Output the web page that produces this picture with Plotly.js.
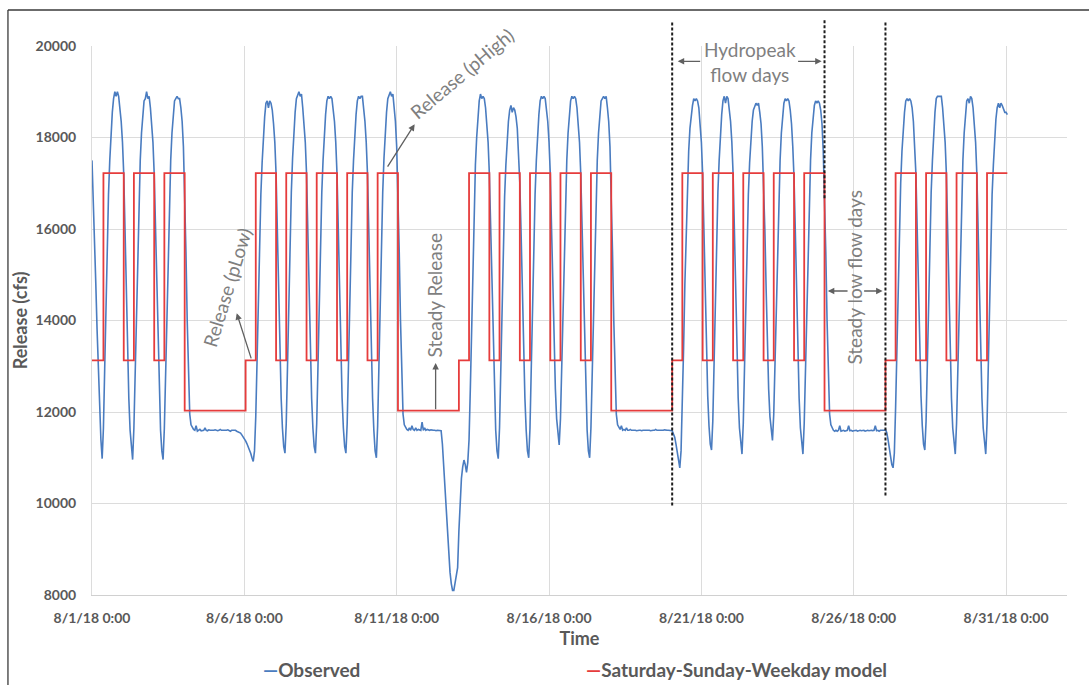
<!DOCTYPE html>
<html>
<head>
<meta charset="utf-8">
<script src="https://cdn.plot.ly/plotly-3.0.1.min.js"></script>
<style>
  html, body { margin: 0; padding: 0; background: #ffffff; }
  #chart { width: 1089px; height: 685px; }
</style>
</head>
<body>
<div id="chart"></div>
<script>
// Hourly observed release (cfs), one row per day starting 8/1/2018, hours 0:00..23:00
const observedHourly = [
  [17500,16700,15800,14800,13800,12900,12100,11400,10980,11650,12950,14350,15650,16750,17500,18100,18550,18850,19000,18900,19000,18900,18650,18350], // 8/1
  [17900,17200,16000,14600,13300,12300,11600,11150,10960,11650,12950,14350,15650,16750,17500,18100,18500,18800,18850,19000,18850,18900,18650,18350], // 8/2
  [17900,17200,16000,14600,13300,12300,11600,11150,10960,11650,12950,14350,15650,16750,17500,18100,18500,18800,18850,18900,18850,18850,18650,18350], // 8/3
  [17800,16900,15500,14000,12700,11950,11720,11650,11620,11600,11700,11580,11600,11620,11590,11600,11600,11650,11600,11590,11610,11600,11600,11590], // 8/4
  [11600,11610,11600,11590,11600,11620,11600,11600,11590,11600,11600,11610,11600,11580,11600,11600,11590,11600,11580,11570,11560,11540,11500,11460], // 8/5
  [11420,11370,11310,11250,11180,11100,11000,10920,11150,11900,13100,14450,15700,16750,17450,18000,18450,18750,18800,18650,18800,18750,18600,18300], // 8/6
  [17900,17200,16000,14600,13300,12300,11650,11250,11100,11750,13000,14400,15700,16800,17550,18150,18550,18850,18950,19000,18900,18950,18650,18350], // 8/7
  [17900,17200,16000,14600,13300,12300,11650,11250,11100,11750,13000,14400,15700,16800,17500,18100,18500,18800,18900,18850,18900,18850,18650,18350], // 8/8
  [17900,17200,16000,14600,13300,12300,11650,11250,11100,11750,13000,14400,15700,16800,17500,18100,18500,18800,18900,18850,18900,18900,18650,18350], // 8/9
  [17900,17200,16000,14600,13300,12300,11600,11150,11000,11700,13000,14400,15700,16800,17550,18150,18550,18850,18950,19000,18900,18950,18650,18350], // 8/10
  [17800,16900,15500,14000,12700,11950,11720,11650,11620,11600,11650,11600,11700,11620,11600,11650,11600,11620,11600,11600,11780,11600,11650,11600], // 8/11
  [11620,11600,11600,11610,11600,11600,11600,11590,11600,11600,11600,11590,11300,10800,10300,9850,9300,8850,8500,8250,8100,8100,8250,8450],           // 8/12
  [8600,9400,10100,10550,10800,10950,10850,10680,10900,11400,12500,13900,15300,16500,17400,18000,18500,18800,18950,18850,18900,18850,18650,18350],       // 8/13
  [17900,17200,16000,14600,13300,12300,11600,11150,10980,11650,12950,14350,15650,16700,17400,17950,18350,18600,18700,18550,18650,18600,18450,18200], // 8/14
  [17700,17000,15900,14500,13300,12300,11600,11150,11000,11650,12950,14350,15650,16750,17500,18100,18500,18800,18900,18850,18900,18850,18650,18350], // 8/15
  [17900,17200,16000,14700,13400,12500,11850,11450,11280,11850,13050,14400,15700,16800,17500,18100,18500,18800,18900,18850,18900,18850,18650,18350], // 8/16
  [17900,17200,16000,14600,13300,12300,11600,11150,11000,11650,12950,14350,15650,16750,17500,18100,18500,18800,18850,18900,18850,18900,18650,18350], // 8/17
  [17800,16900,15500,14000,12700,11950,11720,11650,11620,11700,11600,11620,11600,11650,11600,11600,11620,11600,11600,11610,11600,11590,11600,11600], // 8/18
  [11600,11590,11600,11600,11610,11600,11600,11600,11590,11600,11600,11600,11620,11600,11600,11590,11600,11600,11600,11610,11600,11600,11600,11600], // 8/19
  [11600,11590,11520,11450,11300,11100,10880,10780,11150,12100,13400,14800,16000,17000,17700,18200,18500,18700,18850,18800,18850,18800,18650,18350], // 8/20
  [17900,17200,16000,14600,13300,12350,11700,11300,11170,11800,13050,14400,15700,16800,17500,18100,18500,18800,18900,18750,18900,18850,18650,18350], // 8/21
  [17900,17200,16000,14600,13300,12300,11650,11250,11080,11750,13000,14400,15700,16750,17450,18000,18350,18600,18700,18750,18700,18750,18550,18300], // 8/22
  [17800,17100,16000,14700,13450,12500,11900,11550,11380,11950,13100,14450,15700,16800,17500,18100,18500,18750,18850,18800,18850,18800,18600,18300], // 8/23
  [17800,17100,15950,14600,13300,12300,11650,11250,11080,11750,13000,14400,15700,16800,17500,18100,18500,18700,18800,18750,18800,18750,18600,18300], // 8/24
  [17700,16850,15500,14000,12700,11950,11720,11640,11600,11580,11600,11580,11600,11700,11580,11590,11600,11580,11600,11600,11700,11590,11600,11580], // 8/25
  [11590,11600,11600,11580,11600,11600,11590,11600,11600,11580,11600,11600,11590,11600,11600,11590,11600,11700,11590,11600,11580,11600,11600,11590], // 8/26
  [11600,11620,11550,11400,11200,11000,10850,10780,11100,12100,13400,14800,16000,17000,17700,18200,18550,18800,18850,18800,18850,18800,18650,18350], // 8/27
  [17900,17200,16000,14600,13300,12350,11700,11300,11170,11800,13050,14400,15700,16800,17500,18100,18550,18850,18900,18900,18900,18900,18650,18350], // 8/28
  [17900,17200,16000,14600,13300,12300,11650,11250,11080,11750,13000,14400,15700,16800,17500,18100,18500,18800,18850,18750,18900,18850,18650,18350], // 8/29
  [17900,17200,16000,14600,13300,12300,11650,11250,11080,11750,13000,14400,15700,16750,17400,18000,18400,18650,18750,18650,18750,18700,18600,18550]  // 8/30
];
// Last two readings, 8/31 0:00 and 1:00
const observedTail = [18550, 18500];

// Saturday-Sunday-Weekday model: day type per day from 8/1 (W = weekday, S = weekend)
const dayType = ['W','W','W','S','S','W','W','W','W','W','S','S','W','W','W','W','W','S','S','W','W','W','W','W','S','S','W','W','W','W'];
const releasePLow = 13130;    // weekday off-peak release
const releasePHigh = 17220;   // weekday peak release
const releaseSteady = 12030;  // weekend steady release
const offPeakStartHour = 1;   // model day switches at 1:00
const peakStartHour = 9;      // peak release begins at 9:00

// Axis ticks
const tickDates = ['2018-08-01','2018-08-06','2018-08-11','2018-08-16','2018-08-21','2018-08-26','2018-08-31'];
const tickLabels = ['8/1/18 0:00','8/6/18 0:00','8/11/18 0:00','8/16/18 0:00','8/21/18 0:00','8/26/18 0:00','8/31/18 0:00'];

function stamp(dayIndex, hour) {
  const dt = new Date(Date.UTC(2018, 7, 1 + dayIndex, hour));
  return dt.toISOString().slice(0, 16).replace('T', ' ');
}

// Observed series
const obsX = [], obsY = [];
observedHourly.forEach((row, d) => {
  row.forEach((v, h) => { obsX.push(stamp(d, h)); obsY.push(v); });
});
observedTail.forEach((v, h) => { obsX.push(stamp(observedHourly.length, h)); obsY.push(v); });

// Model step series
const modX = [stamp(0, 0)], modY = [releasePLow];
dayType.forEach((t, d) => {
  if (t === 'W') {
    modX.push(stamp(d, offPeakStartHour)); modY.push(releasePLow);
    modX.push(stamp(d, peakStartHour));    modY.push(releasePHigh);
  } else {
    modX.push(stamp(d, offPeakStartHour)); modY.push(releaseSteady);
  }
});
modX.push(stamp(dayType.length, offPeakStartHour)); modY.push(releasePHigh);

const blue = '#4a7cc0';
const red = '#e63c3c';
const grey = '#7f7f7f';
const arrowGrey = '#606060';
const labelColor = '#595959';

const traces = [
  { x: obsX, y: obsY, type: 'scatter', mode: 'lines', name: 'Observed',
    line: { color: blue, width: 1.6 }, showlegend: false },
  { x: modX, y: modY, type: 'scatter', mode: 'lines', name: 'Saturday-Sunday-Weekday model',
    line: { color: red, width: 1.8, shape: 'hv' }, showlegend: false }
];

const noteFont = { family: 'Lato, sans-serif', size: 19, color: grey };

function arrow(x, y, ax, ay) {
  return { x: x, y: y, ax: ax, ay: ay, xref: 'x', yref: 'y', axref: 'x', ayref: 'y',
           text: '', showarrow: true, arrowhead: 2, arrowsize: 1, arrowwidth: 1.3,
           arrowcolor: arrowGrey, standoff: 0, startstandoff: 0 };
}

const annotations = [
  { x: '2018-08-13 03:10', y: 19400, xref: 'x', yref: 'y', text: 'Release (pHigh)',
    textangle: -40, showarrow: false, font: noteFont },
  arrow('2018-08-11 14:10', 18290, '2018-08-10 16:05', 17330),

  { x: '2018-08-05 10:05', y: 14730, xref: 'x', yref: 'y', text: 'Release (pLow)',
    textangle: -73, showarrow: false, font: noteFont },
  arrow('2018-08-05 18:00', 14160, '2018-08-06 05:45', 13140),

  { x: '2018-08-12 05:50', y: 14560, xref: 'x', yref: 'y', text: 'Steady Release',
    textangle: -90, showarrow: false, font: noteFont },
  arrow('2018-08-12 06:40', 13070, '2018-08-12 06:40', releaseSteady),

  { x: '2018-08-22 14:00', y: 19650, xref: 'x', yref: 'y', text: 'Hydropeak<br>flow days',
    showarrow: false, font: noteFont },
  arrow('2018-08-20 05:20', 19665, '2018-08-21 00:15', 19665),
  arrow('2018-08-24 22:45', 19665, '2018-08-24 03:00', 19665),

  { x: '2018-08-26 00:40', y: 14930, xref: 'x', yref: 'y', text: 'Steady low flow days',
    textangle: -90, showarrow: false, font: noteFont },
  arrow('2018-08-25 03:35', 14645, '2018-08-25 20:20', 14645),
  arrow('2018-08-26 22:45', 14645, '2018-08-26 07:00', 14645),

  // legend
  { xref: 'paper', yref: 'paper', x: 0.1733, y: -0.1348, xanchor: 'left', yanchor: 'middle',
    text: "<span style='color:" + blue + "'>\u2014</span>Observed", showarrow: false,
    font: { family: 'Lato, sans-serif', size: 19, weight: 700, color: labelColor } },
  { xref: 'paper', yref: 'paper', x: 0.5046, y: -0.1348, xanchor: 'left', yanchor: 'middle',
    text: "<span style='color:" + red + "'>\u2014</span>Saturday-Sunday-Weekday model", showarrow: false,
    font: { family: 'Lato, sans-serif', size: 19, weight: 700, color: labelColor } }
];

function divider(date, y0, y1) {
  return { type: 'line', xref: 'x', yref: 'paper', x0: date, x1: date, y0: y0, y1: y1,
           line: { color: '#1e1e1e', width: 2, dash: '3px,2px' }, layer: 'above' };
}

const shapes = [
  divider('2018-08-20 01:00', 1.043, 0.161),
  divider('2018-08-25 01:00', 1.047, 0.72),
  divider('2018-08-27 01:00', 1.043, 0.178),
  // frame
  { type: 'line', xref: 'paper', yref: 'paper', x0: -0.0862, x1: -0.0862, y0: 1.0656, y1: -0.2,
    line: { color: '#3a3a3a', width: 1.3 } },
  { type: 'line', xref: 'paper', yref: 'paper', x0: -0.0862, x1: 1.05, y0: 1.0656, y1: 1.0656,
    line: { color: '#3a3a3a', width: 1.3 } }
];

const tickFont = { family: 'Lato, sans-serif', size: 14, weight: 700, color: labelColor };
const titleFont = { family: 'Lato, sans-serif', size: 18, weight: 700, color: labelColor };

const layout = {
  width: 1089, height: 685,
  margin: { l: 92, r: 22, t: 46, b: 90 },
  paper_bgcolor: '#ffffff', plot_bgcolor: '#ffffff',
  showlegend: false,
  xaxis: {
    type: 'date',
    range: ['2018-08-01 00:00', '2018-09-02 00:00'],
    tickvals: tickDates, ticktext: tickLabels,
    showgrid: true, gridcolor: '#dcdcdc', gridwidth: 1,
    showline: true, linecolor: '#d0d0d0', linewidth: 1,
    zeroline: false, ticks: '', tickfont: tickFont, ticklabelstandoff: 10,
    title: { text: 'Time', font: titleFont, standoff: 7 }
  },
  yaxis: {
    range: [8000, 20000], dtick: 2000, tick0: 8000, tickformat: 'd',
    showgrid: true, gridcolor: '#dcdcdc', gridwidth: 1,
    showline: true, linecolor: '#dcdcdc', linewidth: 1,
    zeroline: false, ticks: '', tickfont: tickFont, ticklabelstandoff: 12,
    title: { text: 'Release (cfs)', font: titleFont, standoff: 3 }
  },
  annotations: annotations,
  shapes: shapes
};

Plotly.newPlot('chart', traces, layout, { displayModeBar: false, staticPlot: true });
</script>
</body>
</html>
